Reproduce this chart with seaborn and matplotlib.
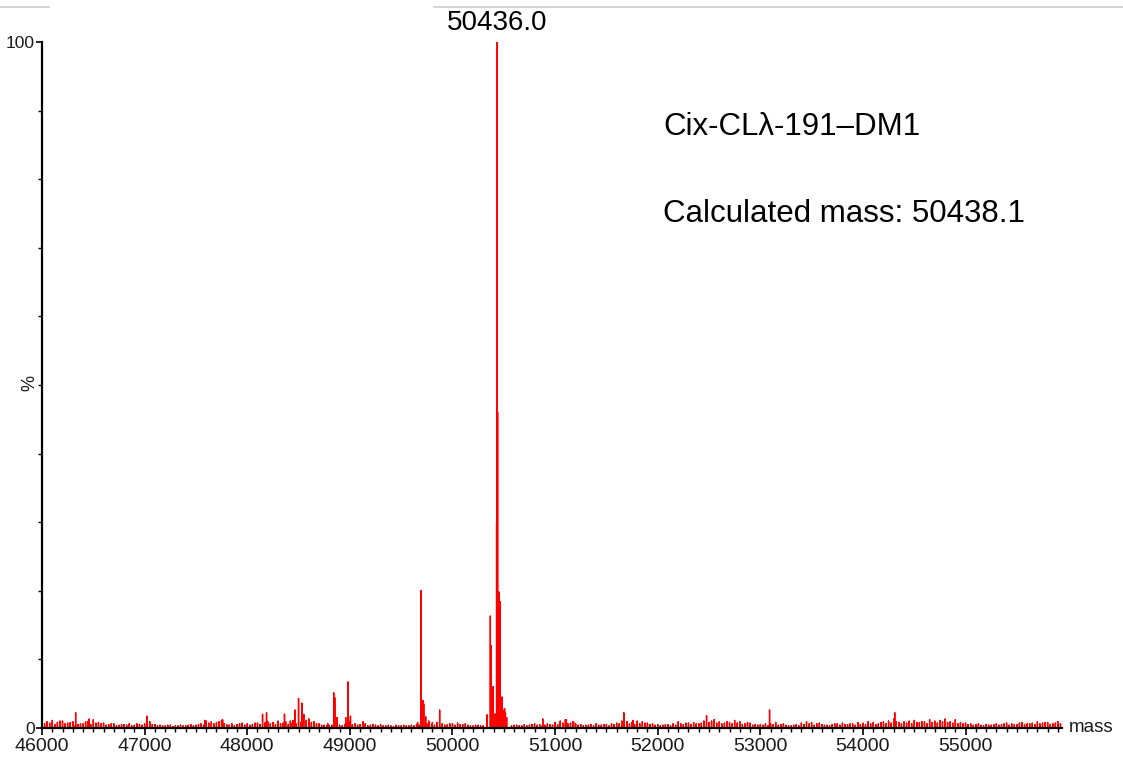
import numpy as np
import pandas as pd
import matplotlib.pyplot as plt
import seaborn as sns
from matplotlib.lines import Line2D
from matplotlib.ticker import MultipleLocator, FixedLocator

# labelled peaks / spikes (mass, % intensity)
peak_mass = [46328, 46458, 47025, 47587, 47760, 48149, 48188, 48363, 48420, 48445,
             48467, 48500, 48532, 48551, 48785, 48843, 48853, 48875, 48960, 48983,
             49006, 49130, 49660, 49693, 49705, 49713, 49720, 49739, 49768, 49804,
             49875, 50336, 50369, 50375, 50385, 50396, 50410, 50421, 50430, 50433,
             50436, 50440, 50453, 50463, 50472, 50484, 50492, 50500, 50508, 50516,
             50528, 50880, 51110, 51180, 51670, 51760, 52476, 53090, 54310]
peak_int = [2.2, 1.3, 1.7, 1.1, 1.2, 2.0, 2.2, 2.0, 1.0, 1.1,
            2.6, 4.3, 3.6, 2.0, 0.6, 5.1, 4.4, 1.5, 1.5, 6.7,
            1.7, 0.9, 0.8, 20.0, 2.2, 4.0, 3.5, 1.6, 1.0, 0.8,
            2.6, 1.9, 16.3, 12.0, 4.4, 6.0, 2.0, 2.0, 30.0, 47.0,
            100.0, 46.0, 19.8, 18.4, 3.0, 4.5, 2.6, 2.5, 2.8, 2.2,
            1.5, 1.3, 1.2, 0.9, 2.2, 1.1, 1.8, 2.6, 2.2]

# baseline noise, one value per 50 Da from 46000
noise_start = 46000
noise_step = 50
noise_int = [
    0.4, 0.9, 1.1, 0.8, 1.0, 0.7, 0.9, 0.5, 0.6, 1.0, 1.2, 0.8, 0.7, 0.5, 0.6, 0.4, 0.5, 0.6, 0.4, 0.5,
    0.6, 0.9, 0.5, 0.4, 0.3, 0.4, 0.3, 0.4, 0.3, 0.5, 0.4, 0.6, 1.0, 0.9, 0.8, 1.1, 0.5, 0.6, 0.5, 0.7,
    0.6, 0.5, 0.7, 0.6, 0.9, 0.8, 1.0, 0.7, 0.5, 0.9, 1.0, 1.4, 1.3, 0.9, 0.6, 0.4, 0.3, 0.3, 0.4, 0.5,
    0.9, 0.6, 0.5, 0.6, 0.4, 0.4, 0.5, 0.3, 0.3, 0.4, 0.3, 0.3, 0.4, 0.5, 0.7, 0.6, 0.5, 0.8, 0.6, 0.5,
    0.6, 0.7, 0.5, 0.4, 0.3, 0.4, 0.3, 0.0, 0.0, 0.0, 0.0, 0.0, 0.4, 0.3, 0.5, 0.4, 0.6, 0.5, 0.4, 0.5,
    0.8, 1.0, 1.2, 0.7, 0.6, 0.5, 0.4, 0.5, 0.6, 0.4, 0.5, 0.6, 0.7, 1.0, 0.9, 0.8, 1.0, 0.9, 0.7, 0.6,
    0.5, 0.4, 0.5, 0.6, 0.9, 0.5, 0.7, 0.8, 0.6, 1.0, 0.8, 1.2, 0.9, 0.7, 0.8, 1.1, 0.9, 0.6, 0.7, 0.5,
    0.5, 0.6, 0.6, 0.8, 0.5, 0.4, 0.3, 0.5, 0.7, 0.9, 0.8, 0.6, 0.5, 0.4, 0.5, 0.6, 0.7, 0.5, 0.6, 0.8,
    0.7, 0.9, 0.8, 0.6, 0.9, 1.0, 1.3, 0.8, 0.9, 1.0, 1.1, 0.8, 0.9, 1.2, 1.0, 1.1, 1.3, 0.9, 1.2, 0.8,
    0.7, 0.6, 0.5, 0.4, 0.5, 0.4, 0.6, 0.5, 0.7, 0.6, 0.5, 0.8, 0.6, 0.7, 0.9, 0.7, 0.8, 0.6, 0.9, 0.7,
]
# second noise trace, one value per 50 Da from 46025 (between the first)
noise2_start = 46025
noise2_int = [
    0.6, 0.7, 0.5, 1.0, 0.6, 0.8, 0.4, 0.6, 0.9, 0.5, 0.7, 0.6, 0.4, 0.6, 0.3, 0.5, 0.4, 0.3, 0.6, 0.4,
    0.4, 0.5, 0.3, 0.3, 0.4, 0.2, 0.3, 0.3, 0.4, 0.3, 0.5, 0.4, 0.7, 0.6, 0.9, 0.6, 0.4, 0.3, 0.6, 0.4,
    0.4, 0.7, 0.5, 0.8, 0.6, 0.5, 0.6, 0.9, 0.7, 0.6, 0.8, 1.1, 0.8, 0.6, 0.4, 0.3, 0.4, 0.3, 0.3, 0.6,
    0.5, 0.4, 0.4, 0.3, 0.5, 0.3, 0.3, 0.4, 0.2, 0.3, 0.4, 0.3, 0.3, 0.4, 0.5, 0.8, 0.4, 0.6, 0.4, 0.6,
    0.4, 0.5, 0.6, 0.3, 0.4, 0.3, 0.0, 0.0, 0.0, 0.0, 0.0, 0.3, 0.4, 0.3, 0.3, 0.5, 0.4, 0.3, 0.6, 0.4,
    0.5, 0.7, 0.6, 0.9, 0.4, 0.3, 0.4, 0.3, 0.4, 0.5, 0.3, 0.5, 0.6, 0.7, 0.6, 0.5, 0.6, 0.7, 0.5, 0.4,
    0.3, 0.5, 0.3, 0.4, 0.6, 0.7, 0.5, 0.6, 0.7, 0.5, 1.0, 0.7, 0.6, 0.9, 0.6, 0.7, 0.5, 0.8, 0.4, 0.4,
    0.4, 0.3, 0.5, 0.4, 0.6, 0.3, 0.4, 0.3, 0.5, 0.6, 0.4, 0.7, 0.4, 0.3, 0.6, 0.4, 0.5, 0.6, 0.4, 0.5,
    0.5, 0.6, 0.5, 0.8, 0.6, 0.7, 0.9, 0.6, 0.7, 0.6, 0.8, 0.9, 0.6, 0.8, 0.7, 0.9, 0.8, 0.7, 0.6, 0.6,
    0.5, 0.4, 0.6, 0.3, 0.4, 0.5, 0.4, 0.6, 0.4, 0.5, 0.7, 0.5, 0.6, 0.5, 0.6, 0.8, 0.5, 0.7, 0.6, 0.5,
]

x_ticks = [46000, 47000, 48000, 49000, 50000, 51000, 52000, 53000, 54000, 55000]
top_peak = 50436
top_label = "50436.0"
title_lines = ["Cix-CLλ-191–DM1", "Calculated mass: 50438.1"]

noise_mass = noise_start + noise_step * np.arange(len(noise_int))
noise2_mass = noise2_start + noise_step * np.arange(len(noise2_int))
sticks = pd.DataFrame({
    "mass": np.concatenate([noise_mass, noise2_mass, peak_mass]),
    "pct": np.concatenate([noise_int, noise2_int, peak_int]),
})
sticks = sticks[sticks["pct"] > 0].sort_values("mass").reset_index(drop=True)

# profile: each stick goes baseline -> top -> baseline
rows = []
for m, h in zip(sticks["mass"], sticks["pct"]):
    rows += [(m, 0.0), (m, h), (m, 0.0)]
profile = pd.DataFrame(rows, columns=["mass", "pct"])

sns.set_style("ticks")
plt.rcParams["font.family"] = ["Liberation Sans", "DejaVu Sans"]
plt.rcParams["text.color"] = "black"

fig = plt.figure(figsize=(11.23, 7.58), dpi=100)
ax = fig.add_axes([0.0374, 0.0396, 0.9083, 0.905])

sns.lineplot(data=profile, x="mass", y="pct", sort=False, estimator=None,
             color="#ff0000", lw=1.0, ax=ax)

ax.set_xlim(46000, 55940)
ax.set_ylim(0, 100)
ax.xaxis.set_major_locator(FixedLocator(x_ticks))
ax.xaxis.set_minor_locator(MultipleLocator(100))
ax.yaxis.set_major_locator(FixedLocator([0, 100]))
ax.yaxis.set_minor_locator(MultipleLocator(10))
ax.tick_params(axis="both", which="major", direction="out", length=5, width=1.2,
               color="black", labelcolor="#1a1a1a", pad=2)
ax.tick_params(axis="x", which="major", labelsize=14)
ax.tick_params(axis="y", which="major", labelsize=12.5, length=4, pad=1)
ax.tick_params(axis="both", which="minor", direction="out", length=3, width=1, color="black")
for s in ["top", "right"]:
    ax.spines[s].set_visible(False)
for s in ["left", "bottom"]:
    ax.spines[s].set_color("black")
    ax.spines[s].set_linewidth(1.6)

ax.set_xlabel("")
ax.set_ylabel("")
fig.text(30 / 1123, 1 - 383 / 758, "%", fontsize=13, rotation=90,
         ha="center", va="center", color="#1a1a1a")
ax.text(1.007, 0.0, "mass", transform=ax.transAxes, fontsize=13.5,
        ha="left", va="center", color="#1a1a1a")

ax.annotate(top_label, xy=(top_peak, 100), xytext=(0, 4), textcoords="offset points",
            ha="center", va="bottom", fontsize=20, annotation_clip=False)

fig.text(663 / 1123, 1 - 135 / 758, title_lines[0], fontsize=22.5, va="baseline")
fig.text(663 / 1123, 1 - 222 / 758, title_lines[1], fontsize=22.5, va="baseline")

# light frame line at the very top of the screenshot
fig.add_artist(Line2D([0, 49 / 1123], [1 - 7 / 758] * 2, color="#d5d5d5", lw=1.5))
fig.add_artist(Line2D([434 / 1123, 1], [1 - 7 / 758] * 2, color="#d5d5d5", lw=1.5))

fig.savefig("out.png", dpi=100)
